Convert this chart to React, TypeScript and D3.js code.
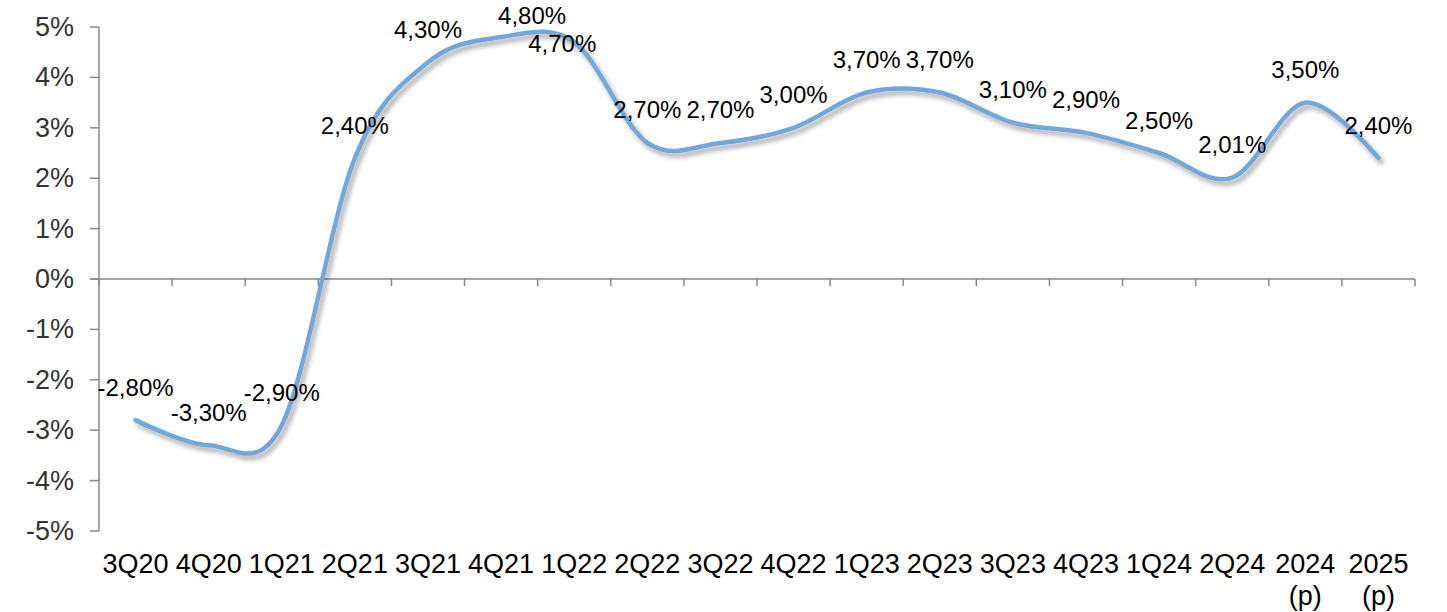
import React from "react";
import * as d3 from "d3";

const categories: string[] = [
  "3Q20", "4Q20", "1Q21", "2Q21", "3Q21", "4Q21", "1Q22", "2Q22", "3Q22",
  "4Q22", "1Q23", "2Q23", "3Q23", "4Q23", "1Q24", "2Q24", "2024\n(p)", "2025\n(p)",
];
const values: number[] = [
  -2.8, -3.3, -2.9, 2.4, 4.3, 4.8, 4.7, 2.7, 2.7, 3.0, 3.7, 3.7, 3.1, 2.9, 2.5, 2.01, 3.5, 2.4,
];
const yTicks: number[] = [-5, -4, -3, -2, -1, 0, 1, 2, 3, 4, 5];

const W = 1447;
const H = 612;
const left = 99;
const right = 1415;
const top = 27;
const bottom = 531;

// manual label nudges (dx, dy) relative to default placement above point
const labelNudge: Record<number, [number, number]> = {
  5: [31, 11],
  6: [-12, 34],
};

const fmtPct = (v: number) => d3.format(".2f")(v).replace("\u2212", "-").replace(".", ",") + "%";
const fmtTick = (v: number) => `${v}%`;

export default function App() {
  const x = d3.scaleBand<string>().domain(categories).range([left, right]).paddingInner(0).paddingOuter(0);
  const y = d3.scaleLinear().domain([-5, 5]).range([bottom, top]);
  const cx = (i: number) => (x(categories[i]) as number) + x.bandwidth() / 2;

  const pts: [number, number][] = values.map((v, i) => [cx(i), y(v)]);
  const line = d3.line<[number, number]>().x((d) => d[0]).y((d) => d[1]).curve(d3.curveCardinal.tension(0));
  const path = line(pts) || "";

  const axisColor = "#888888";
  const boundaries = d3.range(categories.length + 1).map((i) => left + i * x.bandwidth());

  return (
    <svg width={W} height={H} style={{ position: "absolute", left: 0, top: 0, background: "#fff" }}
      fontFamily="'Liberation Sans', Arial, sans-serif">
      <defs>
        <filter id="shadow" x="-10%" y="-10%" width="120%" height="130%">
          <feDropShadow dx="3" dy="4" stdDeviation="2.5" floodColor="#000" floodOpacity="0.35" />
        </filter>
      </defs>
      {/* y axis */}
      <line x1={left} x2={left} y1={top} y2={bottom} stroke={axisColor} strokeWidth={1.5} />
      {yTicks.map((t) => (
        <g key={t}>
          <line x1={left - 9} x2={left} y1={y(t)} y2={y(t)} stroke={axisColor} strokeWidth={1.5} />
          <text x={74} y={y(t)} textAnchor="end" dominantBaseline="central" fontSize={27} fill="#333">
            {fmtTick(t)}
          </text>
        </g>
      ))}
      {/* x axis at zero */}
      <line x1={left - 9} x2={right} y1={y(0)} y2={y(0)} stroke={axisColor} strokeWidth={1.5} />
      {boundaries.map((b, i) => (
        <line key={i} x1={b} x2={b} y1={y(0)} y2={y(0) + 7} stroke={axisColor} strokeWidth={1.5} />
      ))}
      {categories.map((c, i) => (
        <text key={c} x={cx(i)} y={573} textAnchor="middle" fontSize={27} fill="#000">
          {c.split("\n").map((ln, j) => (
            <tspan key={j} x={cx(i)} dy={j === 0 ? 0 : 32}>{ln}</tspan>
          ))}
        </text>
      ))}
      {/* line */}
      <path d={path} fill="none" stroke="#6fa8dc" strokeWidth={4.5} strokeLinecap="round" filter="url(#shadow)" />
      {/* data labels */}
      {values.map((v, i) => {
        const [dx, dy] = labelNudge[i] || [0, 0];
        return (
          <text key={i} x={cx(i) + dx} y={y(v) - 33 + dy} textAnchor="middle" dominantBaseline="central"
            fontSize={24} fill="#000">
            {fmtPct(v)}
          </text>
        );
      })}
    </svg>
  );
}
